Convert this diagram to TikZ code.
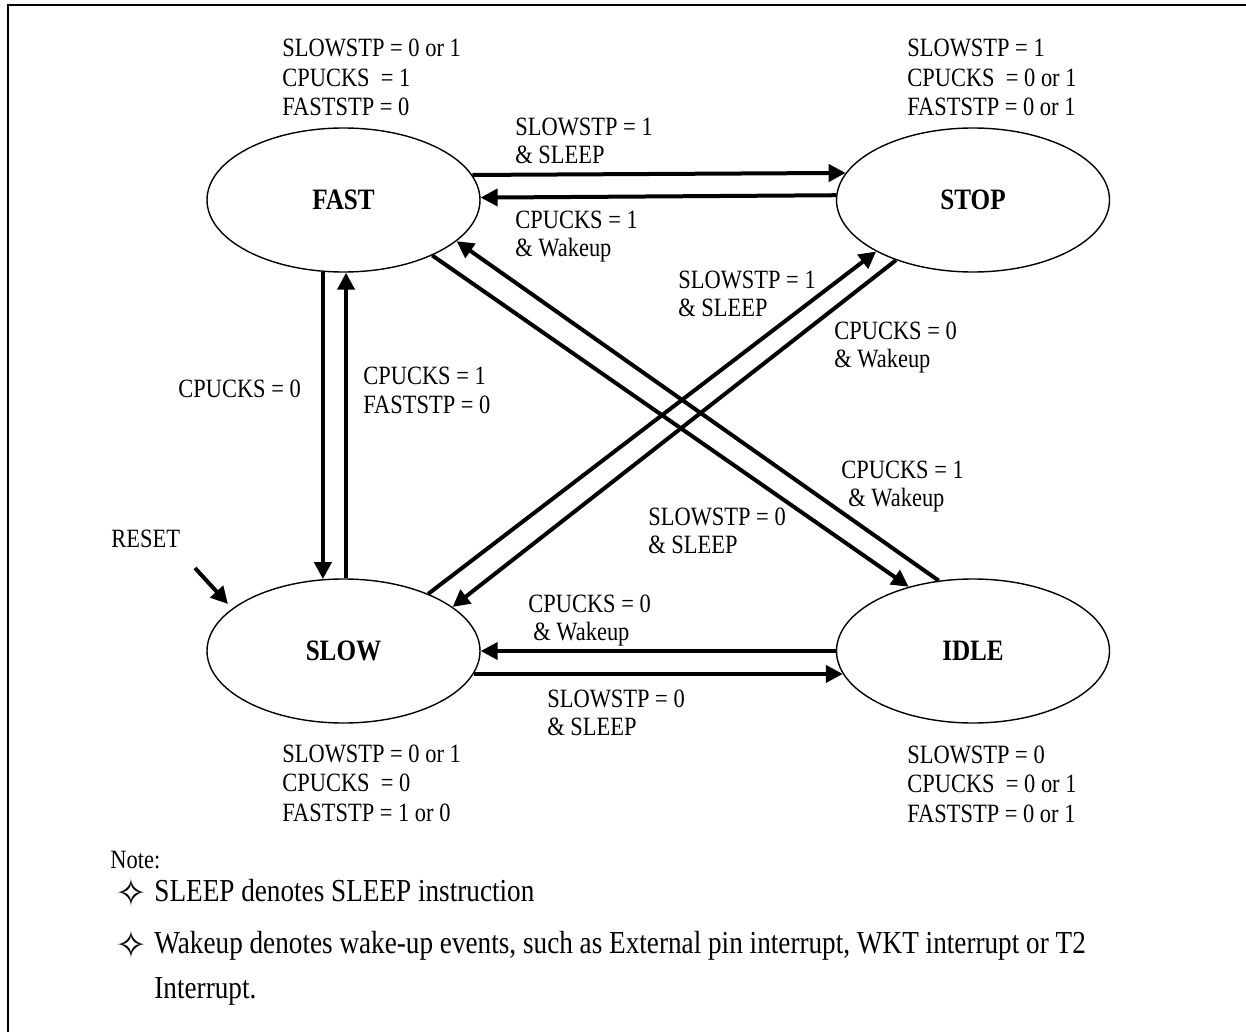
\documentclass[tikz,border=0pt]{standalone}
\usepackage{fontspec}
\setmainfont{Liberation Serif}[FakeStretch=0.85]
\newfontfamily\starfont{DejaVu Sans}
\usetikzlibrary{arrows.meta,shapes.geometric}

% text sizes
\newcommand\lblfont{\fontsize{13.2}{14.75}\selectfont}
\newcommand\edgefont{\fontsize{13.2}{14}\selectfont}
\newcommand\notefont{\fontsize{16}{19}\selectfont}
\newcommand\statefont{\fontsize{14.8}{17}\selectfont\bfseries}
\newcommand\blk[1]{\begin{tabular}[t]{@{}l@{}}#1\end{tabular}}

\begin{document}
\begin{tikzpicture}[x=0.5pt,y=-0.5pt,
  state/.style={ellipse, draw, line width=0.7pt, minimum width=136.5pt,
    minimum height=72pt, inner sep=0pt, font=\statefont},
  tr/.style={line width=2pt, -{Triangle[length=8.5pt,width=8.5pt]}},
  lbl/.style={anchor=base west, inner sep=0pt, font=\lblfont},
  elbl/.style={anchor=base west, inner sep=0pt, font=\edgefont},
  note/.style={anchor=base west, inner sep=0pt, font=\notefont},
  star/.style={anchor=center, inner sep=0pt, font=\starfont\fontsize{19}{20}\selectfont}]

\useasboundingbox (0,0) rectangle (1246,1032);

% frame
\draw[line width=1pt] (8,1032) -- (8,5) -- (1246,5);

% states
\node[state] (fast) at (343.5,200) {FAST};
\node[state] (stop) at (973,200) {STOP};
\node[state] (slow) at (343.5,651) {SLOW};
\node[state] (idle) at (973,651) {IDLE};

% state settings
\node[lbl] (fastset) at (282,57) {\blk{SLOWSTP = 0 or 1\\CPUCKS\ \ = 1\\FASTSTP = 0}};
\node[lbl] (stopset) at (907,57) {\blk{SLOWSTP = 1\\CPUCKS\ \ = 0 or 1\\FASTSTP = 0 or 1}};
\node[lbl] (slowset) at (282,762) {\blk{SLOWSTP = 0 or 1\\CPUCKS\ \ = 0\\FASTSTP = 1 or 0}};
\node[lbl] (idleset) at (907,763) {\blk{SLOWSTP = 0\\CPUCKS\ \ = 0 or 1\\FASTSTP = 0 or 1}};

% transitions
\draw[tr] (fast.11.05) -- (stop.168.95);
\draw[tr] (stop.178.74) -- (fast.1.26);
\draw[tr] (idle.west) -- (slow.east);
\draw[tr] (slow.-10.56) -- (idle.190.56);
\draw[tr] (fast.-106.06) -- (slow.106.06);
\draw[tr] (slow.88) -- (fast.-88);
\draw[tr] (fast.-32.03) -- (idle.135.85);
\draw[tr] (idle.116.57) -- (fast.-20.75);
\draw[tr] (slow.34.79) -- (stop.208.65);
\draw[tr] (stop.218.93) -- (slow.22.26);

% reset entry
\coordinate (rstA) at (195,568);
\coordinate (rstB) at (228,604);
\draw[tr] (rstA) -- (rstB);
\node[lbl] (rst) at (111,547) {RESET};

% transition conditions
\node[elbl] (c1) at (515,136) {\blk{SLOWSTP = 1\\\& SLEEP}};
\node[elbl] (c2) at (515,228) {\blk{CPUCKS = 1\\\& Wakeup}};
\node[elbl] (c3) at (678,288) {\blk{SLOWSTP = 1\\\& SLEEP}};
\node[elbl] (c4) at (834,339) {\blk{CPUCKS = 0\\\& Wakeup}};
\node[elbl] (c5) at (841,478) {\blk{CPUCKS = 1\\\hspace{3.5pt}\& Wakeup}};
\node[elbl] (c6) at (648,525) {\blk{SLOWSTP = 0\\\& SLEEP}};
\node[elbl] (c7) at (528,612) {\blk{CPUCKS = 0\\\hspace{2.5pt}\& Wakeup}};
\node[elbl] (c8) at (547,707) {\blk{SLOWSTP = 0\\\& SLEEP}};
\node[elbl] (c9) at (178,397) {CPUCKS = 0};
\node[lbl] (c10) at (363,384) {\blk{CPUCKS = 1\\FASTSTP = 0}};

% notes
\node[lbl] (nt) at (110,868) {Note:};
\node[star] (s1) at (131,893) {✧};
\node[note] (n1) at (154,901) {SLEEP denotes SLEEP instruction};
\node[star] (s2) at (131,945) {✧};
\node[note] (n2) at (154,953) {Wakeup denotes wake-up events, such as External pin interrupt, WKT interrupt or T2};
\node[note] (n3) at (154,998) {Interrupt.};
\end{tikzpicture}
\end{document}
